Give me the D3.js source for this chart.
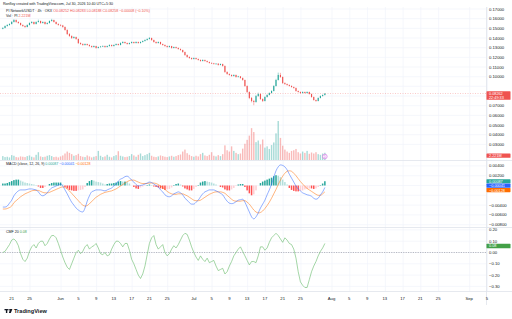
<!DOCTYPE html>
<html>
<head>
<meta charset="utf-8">
<script src="https://cdn.jsdelivr.net/npm/d3@7"></script>
<style>
  html, body { margin: 0; padding: 0; background: #fff; }
  svg { display: block; }
</style>
</head>
<body>
<script>
// 12h candles starting 2026-05-19 00:00 UTC
const startTime = Date.UTC(2026, 4, 19)
const stepMs = 12 * 3600 * 1000

const open = [0.1495,0.1504,0.1524,0.1535,0.1545,0.1566,0.1586,0.1566,0.1555,0.1535,
  0.1524,0.1514,0.1535,0.1555,0.1566,0.1545,0.1566,0.1576,0.1555,0.1566,
  0.1545,0.1555,0.1576,0.1586,0.1566,0.1545,0.1535,0.1530,0.1514,0.1483,
  0.1441,0.1421,0.1400,0.1410,0.1390,0.1348,0.1338,0.1328,0.1338,0.1328,
  0.1317,0.1307,0.1317,0.1297,0.1307,0.1312,0.1317,0.1307,0.1317,0.1328,
  0.1317,0.1328,0.1338,0.1328,0.1348,0.1359,0.1348,0.1338,0.1348,0.1359,
  0.1348,0.1359,0.1348,0.1359,0.1369,0.1379,0.1390,0.1400,0.1379,0.1359,
  0.1348,0.1359,0.1338,0.1328,0.1317,0.1307,0.1317,0.1297,0.1307,0.1297,
  0.1286,0.1276,0.1255,0.1224,0.1204,0.1193,0.1183,0.1193,0.1183,0.1173,
  0.1162,0.1173,0.1162,0.1152,0.1142,0.1138,0.1131,0.1135,0.1121,0.1131,
  0.1111,0.1049,0.1028,0.1018,0.1007,0.1018,0.0997,0.1003,0.0987,0.0966,
  0.0904,0.0842,0.0780,0.0749,0.0738,0.0800,0.0821,0.0769,0.0749,0.0790,
  0.0811,0.0831,0.0852,0.0904,0.0966,0.1018,0.0997,0.0935,0.0924,0.0914,
  0.0904,0.0893,0.0883,0.0852,0.0842,0.0831,0.0842,0.0831,0.0842,0.0821,
  0.0790,0.0759,0.0749,0.0780,0.0800,0.0811]

const high = [0.1512,0.1530,0.1542,0.1552,0.1575,0.1596,0.1592,0.1572,0.1560,0.1540,
  0.1530,0.1540,0.1562,0.1574,0.1570,0.1572,0.1590,0.1580,0.1572,0.1570,
  0.1562,0.1582,0.1598,0.1590,0.1570,0.1552,0.1542,0.1536,0.1520,0.1490,
  0.1450,0.1428,0.1418,0.1415,0.1395,0.1355,0.1345,0.1344,0.1342,0.1334,
  0.1322,0.1323,0.1320,0.1312,0.1318,0.1324,0.1322,0.1322,0.1334,0.1332,
  0.1333,0.1344,0.1342,0.1355,0.1366,0.1363,0.1352,0.1353,0.1364,0.1362,
  0.1365,0.1363,0.1364,0.1375,0.1386,0.1396,0.1410,0.1404,0.1384,0.1364,
  0.1364,0.1362,0.1343,0.1333,0.1322,0.1322,0.1320,0.1312,0.1311,0.1302,
  0.1292,0.1280,0.1260,0.1230,0.1210,0.1198,0.1199,0.1197,0.1188,0.1178,
  0.1179,0.1177,0.1167,0.1157,0.1148,0.1143,0.1140,0.1139,0.1136,0.1135,
  0.1116,0.1055,0.1034,0.1023,0.1024,0.1022,0.1009,0.1007,0.0992,0.0970,
  0.0910,0.0848,0.0790,0.0760,0.0812,0.0835,0.0826,0.0776,0.0798,0.0818,
  0.0838,0.0860,0.0912,0.0978,0.1042,0.1040,0.1002,0.0942,0.0930,0.0920,
  0.0910,0.0898,0.0888,0.0858,0.0847,0.0848,0.0846,0.0848,0.0846,0.0826,
  0.0795,0.0764,0.0786,0.0806,0.0817,0.0830]

const low = [0.1490,0.1500,0.1518,0.1528,0.1540,0.1560,0.1558,0.1548,0.1528,0.1516,
  0.1505,0.1510,0.1530,0.1550,0.1538,0.1540,0.1560,0.1548,0.1550,0.1538,
  0.1540,0.1550,0.1570,0.1560,0.1540,0.1528,0.1522,0.1506,0.1476,0.1432,
  0.1412,0.1390,0.1394,0.1382,0.1338,0.1330,0.1320,0.1322,0.1321,0.1310,
  0.1300,0.1302,0.1290,0.1292,0.1302,0.1308,0.1300,0.1303,0.1312,0.1311,
  0.1313,0.1323,0.1322,0.1324,0.1344,0.1342,0.1332,0.1333,0.1344,0.1343,
  0.1344,0.1342,0.1343,0.1354,0.1364,0.1374,0.1385,0.1372,0.1352,0.1341,
  0.1344,0.1331,0.1321,0.1310,0.1300,0.1302,0.1290,0.1292,0.1291,0.1280,
  0.1269,0.1248,0.1216,0.1196,0.1186,0.1176,0.1178,0.1177,0.1167,0.1156,
  0.1158,0.1156,0.1146,0.1136,0.1132,0.1125,0.1126,0.1115,0.1117,0.1104,
  0.1040,0.1020,0.1011,0.1000,0.1002,0.0990,0.0992,0.0980,0.0958,0.0895,
  0.0832,0.0768,0.0735,0.0705,0.0732,0.0792,0.0760,0.0738,0.0744,0.0784,
  0.0806,0.0826,0.0848,0.0898,0.0960,0.0988,0.0925,0.0916,0.0908,0.0898,
  0.0888,0.0877,0.0845,0.0836,0.0825,0.0827,0.0826,0.0827,0.0815,0.0783,
  0.0752,0.0740,0.0745,0.0775,0.0795,0.0806]

const close = [0.1504,0.1524,0.1535,0.1545,0.1566,0.1586,0.1566,0.1555,0.1535,0.1524,
  0.1514,0.1535,0.1555,0.1566,0.1545,0.1566,0.1576,0.1555,0.1566,0.1545,
  0.1555,0.1576,0.1586,0.1566,0.1545,0.1535,0.1530,0.1514,0.1483,0.1441,
  0.1421,0.1400,0.1410,0.1390,0.1348,0.1338,0.1328,0.1338,0.1328,0.1317,
  0.1307,0.1317,0.1297,0.1307,0.1312,0.1317,0.1307,0.1317,0.1328,0.1317,
  0.1328,0.1338,0.1328,0.1348,0.1359,0.1348,0.1338,0.1348,0.1359,0.1348,
  0.1359,0.1348,0.1359,0.1369,0.1379,0.1390,0.1400,0.1379,0.1359,0.1348,
  0.1359,0.1338,0.1328,0.1317,0.1307,0.1317,0.1297,0.1307,0.1297,0.1286,
  0.1276,0.1255,0.1224,0.1204,0.1193,0.1183,0.1193,0.1183,0.1173,0.1162,
  0.1173,0.1162,0.1152,0.1142,0.1138,0.1131,0.1135,0.1121,0.1131,0.1111,
  0.1049,0.1028,0.1018,0.1007,0.1018,0.0997,0.1003,0.0987,0.0966,0.0904,
  0.0842,0.0780,0.0749,0.0738,0.0800,0.0821,0.0769,0.0749,0.0790,0.0811,
  0.0831,0.0852,0.0904,0.0966,0.1018,0.0997,0.0935,0.0924,0.0914,0.0904,
  0.0893,0.0883,0.0852,0.0842,0.0831,0.0842,0.0831,0.0842,0.0821,0.0790,
  0.0759,0.0749,0.0780,0.0800,0.0811,0.0826]

// volume in millions of PI
const volume = [1.2,0.9,1.0,0.8,1.5,1.3,0.9,0.8,1.1,1.0,
  0.9,1.2,1.4,1.0,0.8,1.6,2.4,1.1,0.9,1.0,
  1.3,1.5,1.2,0.9,1.0,0.8,1.1,1.4,2.0,2.6,
  2.2,1.8,1.3,1.5,1.9,1.2,1.0,0.9,1.4,1.1,
  0.8,1.0,1.2,2.8,1.3,0.9,1.1,1.6,1.0,0.8,
  1.2,1.5,2.7,1.3,1.1,0.9,1.0,1.2,1.8,1.4,
  1.0,1.6,2.0,1.2,1.5,1.8,2.2,1.3,1.0,0.9,
  1.1,1.4,1.2,1.0,0.9,1.1,1.3,1.0,1.2,1.5,
  1.7,2.6,3.2,2.1,1.6,1.2,1.0,1.3,1.1,1.8,
  2.2,1.4,1.2,1.6,2.4,1.3,1.1,1.5,1.2,1.8,
  4.5,3.0,2.6,4.2,2.8,2.2,1.8,2.0,3.5,5.0,
  6.2,7.5,9.8,8.6,5.5,6.0,4.8,6.3,3.8,4.2,
  3.4,4.6,5.4,8.2,12.0,6.8,4.4,3.2,2.6,2.2,
  2.8,3.0,3.4,2.4,2.0,2.6,2.2,2.8,1.9,2.3,
  2.0,2.4,1.8,1.6,2.0,2.221]

const macd = [-0.0044,-0.0044,-0.0042,-0.0036,-0.0030,-0.0021,-0.0015,-0.0011,-0.0009,-0.0009,
  -0.0009,-0.0008,-0.0007,-0.0007,-0.0008,-0.0009,-0.0013,-0.0019,-0.0021,-0.0019,
  -0.0015,-0.0009,-0.0005,-0.0003,-0.0001,0.0001,0.0003,-0.0001,-0.0009,-0.0017,
  -0.0026,-0.0034,-0.0040,-0.0046,-0.0050,-0.0053,-0.0054,-0.0046,-0.0032,-0.0021,
  -0.0013,-0.0011,-0.0009,-0.0009,-0.0009,-0.0010,-0.0011,-0.0009,-0.0007,-0.0005,
  -0.0001,0.0003,0.0009,0.0013,0.0015,0.0018,0.0019,0.0016,0.0011,0.0007,
  0.0002,-0.0001,0.0000,0.0001,0.0003,0.0005,0.0007,0.0006,0.0003,0.0000,
  -0.0003,-0.0009,-0.0013,-0.0019,-0.0022,-0.0023,-0.0021,-0.0017,-0.0015,-0.0013,
  -0.0015,-0.0019,-0.0026,-0.0030,-0.0035,-0.0038,-0.0038,-0.0034,-0.0030,-0.0023,
  -0.0017,-0.0013,-0.0011,-0.0009,-0.0009,-0.0009,-0.0011,-0.0013,-0.0016,-0.0019,
  -0.0026,-0.0032,-0.0036,-0.0037,-0.0036,-0.0033,-0.0030,-0.0029,-0.0028,-0.0034,
  -0.0044,-0.0054,-0.0064,-0.0068,-0.0064,-0.0056,-0.0046,-0.0038,-0.0030,-0.0019,
  -0.0009,0.0003,0.0017,0.0030,0.0038,0.0042,0.0041,0.0038,0.0032,0.0023,
  0.0015,0.0007,-0.0001,-0.0007,-0.0011,-0.0015,-0.0017,-0.0019,-0.0020,-0.0022,
  -0.0026,-0.0028,-0.0026,-0.0019,-0.0013,-0.0004]

const signal = [-0.0048,-0.0048,-0.0047,-0.0045,-0.0042,-0.0035,-0.0031,-0.0027,-0.0023,-0.0020,
  -0.0017,-0.0015,-0.0013,-0.0011,-0.0010,-0.0010,-0.0010,-0.0012,-0.0014,-0.0015,
  -0.0015,-0.0014,-0.0012,-0.0010,-0.0008,-0.0006,-0.0004,-0.0003,-0.0004,-0.0007,
  -0.0011,-0.0016,-0.0021,-0.0026,-0.0031,-0.0036,-0.0040,-0.0042,-0.0041,-0.0037,
  -0.0033,-0.0028,-0.0024,-0.0021,-0.0018,-0.0016,-0.0014,-0.0013,-0.0012,-0.0011,
  -0.0009,-0.0007,-0.0004,-0.0001,0.0002,0.0005,0.0008,0.0010,0.0011,0.0011,
  0.0009,0.0007,0.0005,0.0004,0.0004,0.0004,0.0005,0.0005,0.0005,0.0004,
  0.0002,-0.0001,-0.0004,-0.0008,-0.0012,-0.0015,-0.0017,-0.0018,-0.0018,-0.0017,
  -0.0017,-0.0017,-0.0019,-0.0021,-0.0024,-0.0027,-0.0030,-0.0031,-0.0031,-0.0030,
  -0.0027,-0.0024,-0.0021,-0.0018,-0.0016,-0.0014,-0.0013,-0.0013,-0.0013,-0.0014,
  -0.0016,-0.0020,-0.0024,-0.0028,-0.0031,-0.0032,-0.0032,-0.0032,-0.0031,-0.0031,
  -0.0034,-0.0038,-0.0044,-0.0050,-0.0054,-0.0056,-0.0055,-0.0052,-0.0047,-0.0041,
  -0.0034,-0.0026,-0.0017,-0.0008,0.0002,0.0011,0.0019,0.0025,0.0029,0.0030,
  0.0029,0.0025,0.0020,0.0014,0.0008,0.0003,-0.0002,-0.0006,-0.0009,-0.0012,
  -0.0015,-0.0018,-0.0020,-0.0020,-0.0017,-0.0013]

const hist = [0.0004,0.0004,0.0005,0.0007,0.0009,0.0011,0.0012,0.0012,0.0010,0.0008,
  0.0006,0.0005,0.0004,0.0003,0.0002,0.0001,-0.0002,-0.0005,-0.0005,-0.0003,
  0.0000,0.0003,0.0005,0.0006,0.0006,0.0006,0.0006,0.0002,-0.0003,-0.0006,
  -0.0009,-0.0010,-0.0011,-0.0011,-0.0010,-0.0009,-0.0008,-0.0003,0.0005,0.0009,
  0.0011,0.0010,0.0008,0.0007,0.0006,0.0004,0.0002,0.0003,0.0004,0.0004,
  0.0005,0.0006,0.0008,0.0009,0.0008,0.0008,0.0007,0.0004,0.0000,-0.0003,
  -0.0006,-0.0007,-0.0004,-0.0002,-0.0001,0.0001,0.0002,0.0001,-0.0002,-0.0003,
  -0.0004,-0.0006,-0.0007,-0.0009,-0.0008,-0.0007,-0.0004,0.0001,0.0003,0.0004,
  0.0002,-0.0002,-0.0006,-0.0008,-0.0010,-0.0010,-0.0007,-0.0003,0.0001,0.0006,
  0.0008,0.0009,0.0008,0.0007,0.0006,0.0004,0.0002,0.0000,-0.0003,-0.0004,
  -0.0008,-0.0010,-0.0010,-0.0008,-0.0005,-0.0001,0.0002,0.0003,0.0003,-0.0003,
  -0.0010,-0.0016,-0.0020,-0.0018,-0.0010,0.0000,0.0005,0.0008,0.0010,0.0012,
  0.0014,0.0016,0.0019,0.0021,0.0020,0.0017,0.0012,0.0007,0.0002,-0.0005,
  -0.0009,-0.0011,-0.0012,-0.0012,-0.0011,-0.0010,-0.0008,-0.0007,-0.0006,-0.0006,
  -0.0007,-0.0006,-0.0003,0.0001,0.0004,0.00087]

const cmf = [0.00,0.01,0.04,0.07,0.11,0.12,0.10,0.06,-0.01,-0.06,
  -0.08,-0.05,0.01,0.05,0.07,0.04,0.08,0.10,0.10,0.06,
  0.08,0.12,0.15,0.15,0.13,0.08,0.02,-0.04,-0.09,-0.13,
  -0.15,-0.10,-0.05,0.00,0.02,-0.01,0.01,0.05,0.07,0.03,
  0.05,0.06,0.08,0.04,-0.01,-0.02,0.00,-0.03,-0.02,0.03,
  0.07,0.10,0.10,0.08,0.05,0.08,0.08,0.02,-0.06,-0.10,
  -0.15,-0.20,-0.23,-0.19,-0.12,-0.02,0.08,0.13,0.15,0.07,
  0.03,0.05,0.07,0.00,-0.03,-0.01,0.03,0.06,0.04,0.07,
  0.11,0.15,0.17,0.16,0.11,0.05,0.00,-0.04,-0.07,-0.03,
  -0.06,-0.08,-0.05,-0.09,-0.08,-0.07,-0.12,-0.16,-0.15,-0.14,
  -0.19,-0.17,-0.12,-0.08,-0.03,0.00,0.03,0.05,0.01,-0.03,
  -0.07,-0.11,-0.08,-0.08,-0.09,-0.03,0.05,0.05,0.02,0.04,
  0.09,0.13,0.15,0.17,0.15,0.12,0.09,0.13,0.11,0.08,
  0.07,0.03,-0.05,-0.17,-0.26,-0.29,-0.31,-0.31,-0.24,-0.17,
  -0.12,-0.08,-0.03,0.01,0.04,0.08]

const priceTicks = [0.17,0.16,0.15,0.14,0.13,0.12,0.11,0.10,0.07,0.06,0.05,0.04,0.03]
const macdTicks = [0.004,0.002,-0.004,-0.006,-0.008]
const cmfTicks = [0.2,0.1,0.0,-0.1,-0.2,-0.3]
const timeTicks = ["2026-05-21","2026-05-25","2026-06-01","2026-06-05","2026-06-09","2026-06-13",
  "2026-06-17","2026-06-21","2026-06-25","2026-07-01","2026-07-05","2026-07-09","2026-07-13",
  "2026-07-17","2026-07-21","2026-07-25","2026-08-01","2026-08-05","2026-08-09","2026-08-13",
  "2026-08-17","2026-08-21","2026-08-25","2026-09-01","2026-09-05"]

const width = 512
const height = 319
const plotRight = 486
const up = "#26a69a", down = "#ef5350"
const font = "'Liberation Sans', Arial, sans-serif"

const data = close.map((c, i) => ({
  t: new Date(startTime + i * stepMs), o: open[i], h: high[i], l: low[i], c, v: volume[i],
  m: macd[i], s: signal[i], hi: hist[i], cmf: cmf[i]
}))

const x = d3.scaleUtc()
  .domain([Date.UTC(2026, 4, 21), Date.UTC(2026, 8, 5)])
  .range([11.7, 487])
const yPrice = d3.scaleLinear().domain([0.03, 0.17]).range([144.4, 9])
const yVol = d3.scaleLinear().domain([0, 12]).range([160, 121])
const yMacd = d3.scaleLinear().domain([-0.008, 0.004]).range([224.7, 165.9])
const yCmf = d3.scaleLinear().domain([-0.3, 0.2]).range([286.4, 229.9])

const svg = d3.select("body").append("svg")
  .attr("width", width).attr("height", height)
  .attr("font-family", font)

svg.append("rect").attr("width", width).attr("height", height).attr("fill", "#fff")

svg.append("clipPath").attr("id", "plot")
  .append("rect").attr("x", 0).attr("y", 7).attr("width", plotRight).attr("height", 284)

// grid
const grid = svg.append("g").attr("stroke", "#f0f3fa").attr("stroke-width", 0.7)
grid.selectAll(".v").data(timeTicks).join("line")
  .attr("x1", d => x(new Date(d)) + 0.5).attr("x2", d => x(new Date(d)) + 0.5)
  .attr("y1", 7).attr("y2", 291)
grid.selectAll(".p").data(d3.range(0.03, 0.1701, 0.01)).join("line")
  .attr("x1", 0).attr("x2", plotRight).attr("y1", d => yPrice(d)).attr("y2", d => yPrice(d))
grid.selectAll(".m").data([0.004, 0.002, 0, -0.002, -0.004, -0.006, -0.008]).join("line")
  .attr("x1", 0).attr("x2", plotRight).attr("y1", d => yMacd(d)).attr("y2", d => yMacd(d))
grid.selectAll(".c").data(cmfTicks).join("line")
  .attr("x1", 0).attr("x2", plotRight).attr("y1", d => yCmf(d)).attr("y2", d => yCmf(d))

// pane borders
const borders = svg.append("g").attr("stroke", "#e0e3eb").attr("stroke-width", 0.8)
for (const y of [160.5, 227.5, 291.5])
  borders.append("line").attr("x1", 0).attr("x2", width).attr("y1", y).attr("y2", y)
borders.append("line").attr("x1", plotRight + 0.5).attr("x2", plotRight + 0.5).attr("y1", 7).attr("y2", 305)

const plot = svg.append("g").attr("clip-path", "url(#plot)")

// volume
plot.append("g").selectAll("rect").data(data).join("rect")
  .attr("x", d => x(d.t) - 0.7).attr("width", 1.4)
  .attr("y", d => yVol(d.v)).attr("height", d => yVol(0) - yVol(d.v))
  .attr("fill", d => d.c >= d.o ? up : down).attr("opacity", 0.4)

// candles
const candle = plot.append("g").selectAll("g").data(data).join("g")
  .attr("stroke", d => d.c >= d.o ? up : down).attr("fill", d => d.c >= d.o ? up : down)
candle.append("line")
  .attr("x1", d => x(d.t)).attr("x2", d => x(d.t))
  .attr("y1", d => yPrice(d.h)).attr("y2", d => yPrice(d.l)).attr("stroke-width", 0.45)
candle.append("rect")
  .attr("x", d => x(d.t) - 0.55).attr("width", 1.1)
  .attr("y", d => yPrice(Math.max(d.o, d.c)))
  .attr("height", d => Math.max(0.6, Math.abs(yPrice(d.o) - yPrice(d.c))))
  .attr("stroke", "none")

const last = data[data.length - 1]

// last price line
plot.append("line")
  .attr("x1", 0).attr("x2", plotRight).attr("y1", yPrice(last.c)).attr("y2", yPrice(last.c))
  .attr("stroke", down).attr("stroke-width", 0.5).attr("stroke-dasharray", "1,1.5").attr("opacity", 0.6)

// event marker
plot.append("circle").attr("cx", x(last.t)).attr("cy", 156.5).attr("r", 2.3)
  .attr("fill", "#fff").attr("stroke", "#d05ce3").attr("stroke-width", 0.6)
plot.append("text").attr("x", x(last.t)).attr("y", 157.8).attr("text-anchor", "middle")
  .attr("font-size", 3).attr("fill", "#d05ce3").text("D")

// MACD histogram
plot.append("g").selectAll("rect").data(data).join("rect")
  .attr("x", d => x(d.t) - 0.75).attr("width", 1.5)
  .attr("y", d => yMacd(Math.max(0, d.hi)))
  .attr("height", d => Math.abs(yMacd(d.hi) - yMacd(0)))
  .attr("fill", (d, i) => {
    const prev = i > 0 ? data[i - 1].hi : d.hi
    if (d.hi >= 0) return d.hi >= prev ? "#26a69a" : "#b2dfdb"
    return d.hi <= prev ? "#ff5252" : "#ffcdd2"
  })

plot.append("path").datum(data)
  .attr("fill", "none").attr("stroke", "#ff6d00").attr("stroke-width", 0.6).attr("opacity", 0.85)
  .attr("d", d3.line().x(d => x(d.t)).y(d => yMacd(d.s)).curve(d3.curveMonotoneX))
plot.append("path").datum(data)
  .attr("fill", "none").attr("stroke", "#2962ff").attr("stroke-width", 0.6).attr("opacity", 0.85)
  .attr("d", d3.line().x(d => x(d.t)).y(d => yMacd(d.m)).curve(d3.curveMonotoneX))

// CMF
plot.append("line")
  .attr("x1", 0).attr("x2", plotRight).attr("y1", yCmf(0)).attr("y2", yCmf(0))
  .attr("stroke", "#787b86").attr("stroke-width", 0.5).attr("stroke-dasharray", "1.2,1.2")
plot.append("path").datum(data)
  .attr("fill", "none").attr("stroke", "#66bb6a").attr("stroke-width", 0.6)
  .attr("d", d3.line().x(d => x(d.t)).y(d => yCmf(d.cmf)))

// right axis labels
const axisText = svg.append("g").attr("font-size", 4.2).attr("fill", "#131722")
axisText.selectAll(".pt").data(priceTicks).join("text")
  .attr("x", 489).attr("y", d => yPrice(d) + 1.5).text(d3.format(".5f"))
axisText.selectAll(".mt").data(macdTicks).join("text")
  .attr("x", 489).attr("y", d => yMacd(d) + 1.5).text(d => d3.format(".5f")(d).replace("-", "\u2212"))
axisText.selectAll(".ct").data(cmfTicks).join("text")
  .attr("x", 489).attr("y", d => yCmf(d) + 1.5).text(d => d3.format(".2f")(d).replace("-", "\u2212"))

function tag(y, h, color, lines) {
  const g = svg.append("g")
  g.append("rect").attr("x", plotRight + 0.5).attr("y", y - h / 2).attr("width", 24).attr("height", h)
    .attr("fill", color).attr("rx", 0.6)
  lines.forEach((t, i) => g.append("text")
    .attr("x", 489).attr("y", y - h / 2 + 3.6 + i * 4)
    .attr("font-size", 3.8).attr("fill", "#fff").text(t))
}
tag(yPrice(last.c) + 2, 8.6, down, [d3.format(".5f")(last.c + 0.00002), "22:49:33"])
tag(155.6, 4.4, down, ["2.221M"])
tag(yMacd(last.hi), 4.2, "#26a69a", ["0.00087"])
tag(yMacd(last.hi) + 4.4, 4.2, "#2962ff", ["\u22120.00041"])
tag(yMacd(last.hi) + 8.8, 4.2, "#ff6d00", ["\u22120.00128"])
tag(yCmf(last.cmf) + 2.6, 4.4, "#43a047", ["0.08"])

// time axis
svg.append("g").attr("font-size", 4.2).attr("fill", "#131722").attr("text-anchor", "middle")
  .selectAll("text").data(timeTicks).join("text")
  .attr("x", d => x(new Date(d))).attr("y", 300)
  .text(d => {
    const t = new Date(d)
    return t.getUTCDate() === 1 ? d3.utcFormat("%b")(t) : d3.utcFormat("%-d")(t)
  })

// legends
const legend = svg.append("g").attr("font-size", 3.6)
legend.append("text").attr("x", 3).attr("y", 5).attr("fill", "#131722")
  .text("Ronfloy created with TradingView.com, Jul 30, 2026 10:40 UTC+5:30")

const l1 = legend.append("text").attr("x", 6).attr("y", 12).attr("fill", "#131722")
l1.append("tspan").text("PI Network/USDT \u00b7 4h \u00b7 OKX ")
l1.append("tspan").attr("fill", down)
  .text(" O0.08252  H0.08283  L0.08188  C0.08258  \u22120.00008 (\u22120.10%)")

const l2 = legend.append("text").attr("x", 6).attr("y", 17).attr("fill", "#131722")
l2.append("tspan").text("Vol \u00b7 PI ")
l2.append("tspan").attr("fill", down).text(" 2.221M")

const l3 = legend.append("text").attr("x", 6).attr("y", 165).attr("fill", "#131722")
l3.append("tspan").text("MACD (close, 12, 26, 9) ")
l3.append("tspan").attr("fill", "#26a69a").text(" 0.00087")
l3.append("tspan").attr("fill", "#2962ff").text("  \u22120.00041")
l3.append("tspan").attr("fill", "#ff6d00").text("  \u22120.00128")

const l4 = legend.append("text").attr("x", 6).attr("y", 233).attr("fill", "#131722")
l4.append("tspan").text("CMF 20 ")
l4.append("tspan").attr("fill", "#43a047").text(" 0.08")

// TradingView logo
const logo = svg.append("g").attr("fill", "#131722")
logo.append("rect").attr("x", 4.5).attr("y", 309).attr("width", 3.4).attr("height", 1.3)
logo.append("rect").attr("x", 5.9).attr("y", 309).attr("width", 1.4).attr("height", 4)
logo.append("circle").attr("cx", 9.1).attr("cy", 309.8).attr("r", 0.75)
logo.append("path").attr("d", "M10.1,309 L12.4,309 L10.8,313 L8.9,313 Z")
logo.append("text").attr("x", 14).attr("y", 313.2).attr("font-size", 5.6).attr("font-weight", 600)
  .text("TradingView")
</script>
</body>
</html>
